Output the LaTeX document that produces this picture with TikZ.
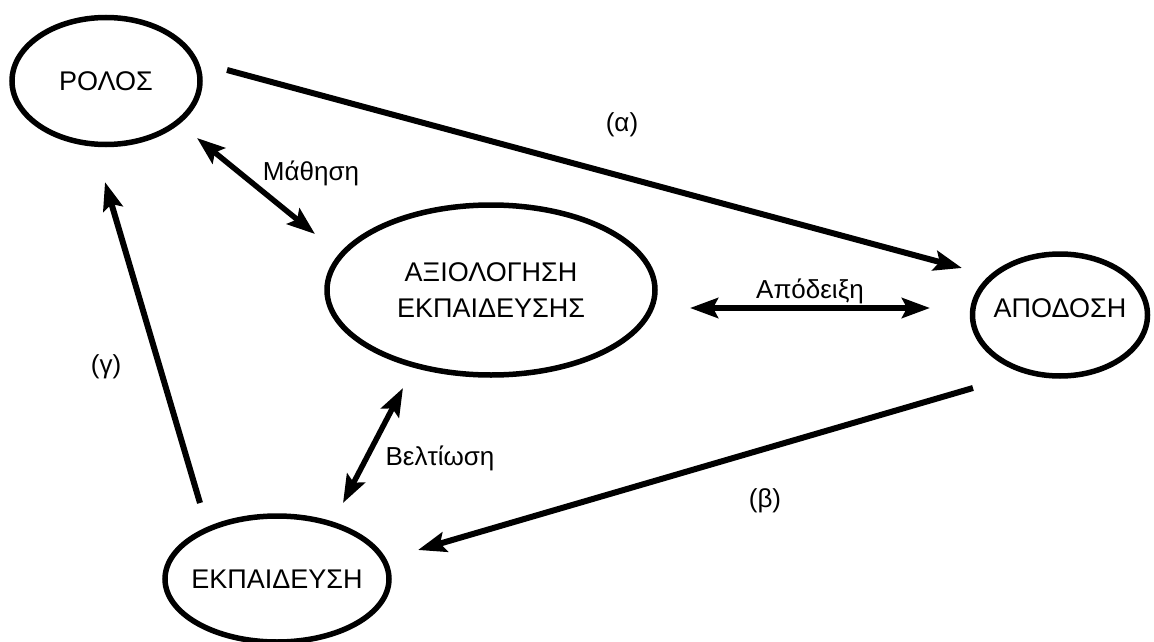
\documentclass[tikz,border=0pt]{standalone}
\usepackage{fontspec}
\setmainfont{Liberation Sans}
\usetikzlibrary{shapes.geometric,arrows.meta}

\begin{document}
\begin{tikzpicture}[x=1pt,y=-1pt,
    stage/.style={draw,ellipse,line width=5.5pt,inner xsep=-12pt,inner ysep=0pt,align=center,font=\fontsize{27}{36}\selectfont},
    link/.style={line width=6pt,-{Stealth[length=28pt,width=20pt,inset=5pt]}},
    dlink/.style={line width=5.5pt,{Stealth[length=28pt,width=20pt,inset=5pt]}-{Stealth[length=28pt,width=20pt,inset=5pt]}},
    tag/.style={anchor=base,font=\fontsize{26}{30}\selectfont}]
    \useasboundingbox (0,0) rectangle (1154,642);

    % the four stages
    \node[stage,minimum width=188pt,minimum height=127pt](rolos)at(106,81){ΡΟΛΟΣ};
    \node[stage,minimum width=328pt,minimum height=170pt](axiologisi)at(491,290){ΑΞΙΟΛΟΓΗΣΗ\\ΕΚΠΑΙΔΕΥΣΗΣ};
    \node[stage,minimum width=175pt,minimum height=122pt,text depth=14pt](apodosi)at(1060,315){ΑΠΟΔΟΣΗ};
    \node[stage,minimum width=224pt,minimum height=126pt](ekpaideusi)at(277,579){ΕΚΠΑΙΔΕΥΣΗ};

    % arrow ends
    \coordinate(a-from)at(227,70);   \coordinate(a-to)at(962,268);
    \coordinate(b-from)at(973,388);  \coordinate(b-to)at(418,550);
    \coordinate(g-from)at(200,503);  \coordinate(g-to)at(105,182);
    \coordinate(m-from)at(197,138);  \coordinate(m-to)at(315,234);
    \coordinate(p-from)at(690,308);  \coordinate(p-to)at(930,308);
    \coordinate(v-from)at(403,388);  \coordinate(v-to)at(343,503);

    \draw[link](a-from)--(a-to);
    \draw[link](b-from)--(b-to);
    \draw[link](g-from)--(g-to);
    \draw[dlink](m-from)--(m-to);
    \draw[dlink](p-from)--(p-to);
    \draw[dlink](v-from)--(v-to);

    % labels
    \node[tag](alpha)at(622,131){(α)};
    \node[tag](beta)at(765,507){(β)};
    \node[tag](gamma)at(106,373){(γ)};
    \node[tag](mathisi)at(311,180){Μάθηση};
    \node[tag](apodeixi)at(810,298){Απόδειξη};
    \node[tag](veltiosi)at(440,465){Βελτίωση};
\end{tikzpicture}
\end{document}
